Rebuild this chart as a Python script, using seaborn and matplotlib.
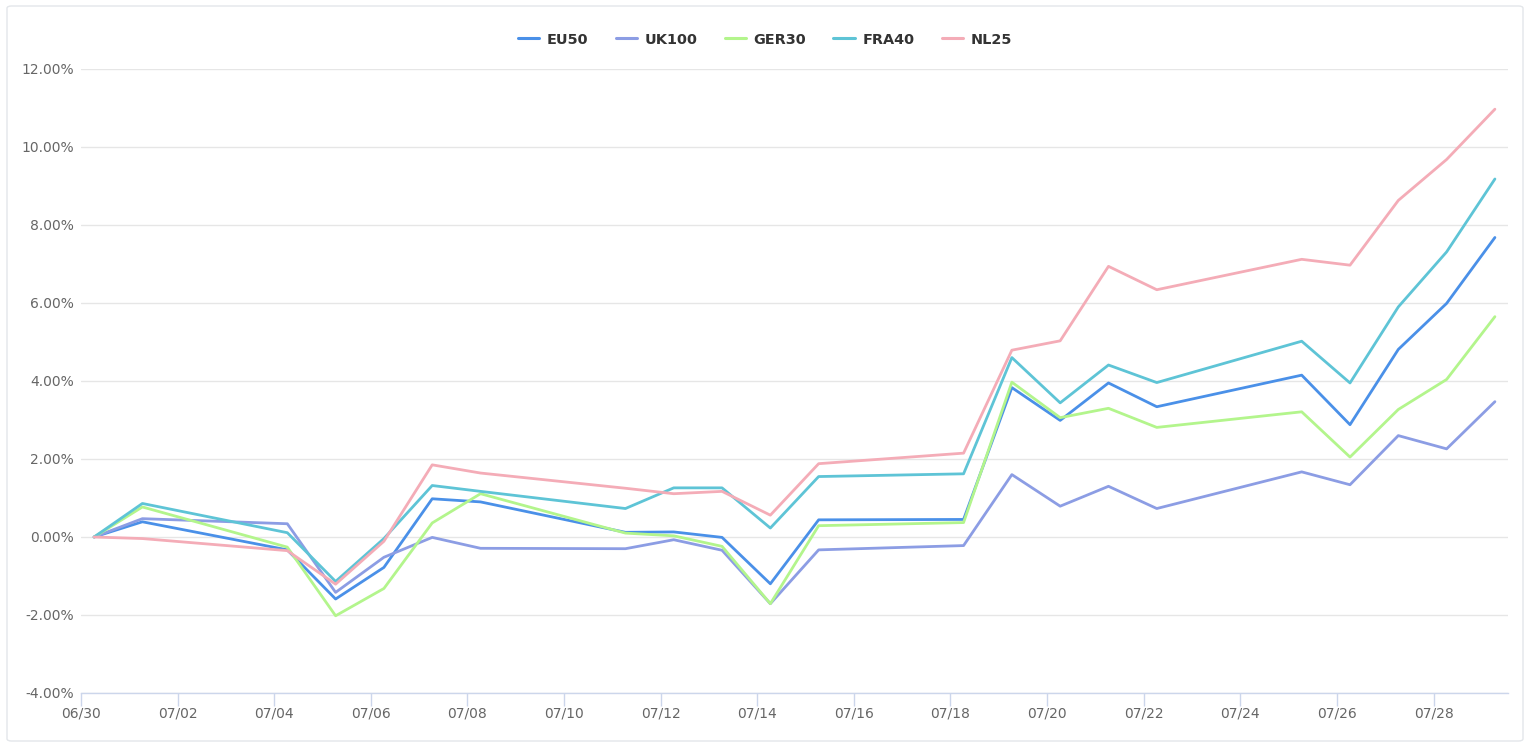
import matplotlib
matplotlib.use("Agg")
import matplotlib.pyplot as plt
import matplotlib.dates as mdates
from matplotlib.ticker import FuncFormatter, MultipleLocator
from matplotlib.patches import FancyBboxPatch
from matplotlib.lines import Line2D
import seaborn as sns
import pandas as pd

dates = ["2022-06-30", "2022-07-01", "2022-07-04", "2022-07-05", "2022-07-06",
         "2022-07-07", "2022-07-08", "2022-07-11", "2022-07-12", "2022-07-13",
         "2022-07-14", "2022-07-15", "2022-07-18", "2022-07-19", "2022-07-20",
         "2022-07-21", "2022-07-22", "2022-07-25", "2022-07-26", "2022-07-27",
         "2022-07-28", "2022-07-29"]
time_of_day = "06:30"

eu50 = [0.00, 0.39, -0.33, -1.59, -0.78, 0.98, 0.90, 0.12, 0.13, -0.01, -1.20,
        0.44, 0.45, 3.83, 2.99, 3.95, 3.34, 4.15, 2.88, 4.81, 5.99, 7.68]
uk100 = [0.00, 0.47, 0.34, -1.42, -0.52, -0.01, -0.29, -0.30, -0.07, -0.34, -1.71,
         -0.33, -0.22, 1.60, 0.79, 1.30, 0.73, 1.67, 1.34, 2.60, 2.26, 3.47]
ger30 = [0.00, 0.77, -0.26, -2.02, -1.32, 0.36, 1.11, 0.10, 0.03, -0.24, -1.71,
         0.29, 0.37, 3.97, 3.06, 3.30, 2.81, 3.21, 2.05, 3.27, 4.04, 5.65]
fra40 = [0.00, 0.86, 0.11, -1.14, -0.04, 1.32, 1.17, 0.73, 1.26, 1.26, 0.23,
         1.55, 1.62, 4.60, 3.44, 4.41, 3.96, 5.02, 3.95, 5.90, 7.31, 9.18]
nl25 = [0.00, -0.04, -0.35, -1.21, -0.11, 1.85, 1.64, 1.25, 1.11, 1.17, 0.56,
        1.88, 2.15, 4.79, 5.03, 6.94, 6.34, 7.12, 6.97, 8.63, 9.68, 10.97]

series_names = ["EU50", "UK100", "GER30", "FRA40", "NL25"]
series_values = [eu50, uk100, ger30, fra40, nl25]
colors = ["#4a90e8", "#8c9de4", "#b3f58c", "#5ec4d6", "#f4acb7"]

ts = pd.to_datetime([d + " " + time_of_day for d in dates])
frames = []
for name, vals in zip(series_names, series_values):
    frames.append(pd.DataFrame({"date": ts, "value": vals, "series": name}))
df = pd.concat(frames, ignore_index=True)

sns.set_style("white")
plt.rcParams["font.family"] = ["DejaVu Sans"]

fig = plt.figure(figsize=(15.32, 7.54), dpi=100)
ax = fig.add_axes([81 / 1532, 1 - 693 / 754, (1508 - 81) / 1532, (693 - 69) / 754])

sns.lineplot(data=df, x="date", y="value", hue="series", hue_order=series_names,
             palette=colors, linewidth=2, ax=ax, legend=False)

ax.set_ylim(-4, 12)
ax.yaxis.set_major_locator(MultipleLocator(2))
ax.yaxis.set_major_formatter(FuncFormatter(lambda v, p: f"{v:.2f}%"))
ax.set_xlim(pd.Timestamp("2022-06-30 00:00"), pd.Timestamp("2022-07-29 13:00"))
ax.xaxis.set_major_locator(mdates.DayLocator(bymonthday=[30, 2, 4, 6, 8, 10, 12, 14, 16, 18, 20, 22, 24, 26, 28]))
ax.xaxis.set_major_formatter(mdates.DateFormatter("%m/%d"))
ax.set_xlabel("")
ax.set_ylabel("")

ax.grid(axis="y", color="#e6e6e6", linewidth=1)
ax.grid(axis="x", visible=False)
for s in ["top", "right", "left"]:
    ax.spines[s].set_visible(False)
ax.spines["bottom"].set_color("#ccd6eb")
ax.spines["bottom"].set_linewidth(1)
ax.tick_params(axis="x", which="major", direction="out", length=9.5, width=1,
               color="#ccd6eb", labelcolor="#666666", labelsize=10, pad=0.5, bottom=True)
ax.tick_params(axis="y", length=0, labelcolor="#666666", labelsize=10, pad=5)

# legend
handles = [Line2D([0], [0], color=c, linewidth=2.2) for c in colors]
leg = fig.legend(handles, series_names, loc="center", bbox_to_anchor=(765 / 1532, 1 - 39.5 / 754),
                 ncol=5, frameon=False, handlelength=1.46, handletextpad=0.55, columnspacing=1.87,
                 borderpad=0, prop={"family": "DejaVu Sans", "weight": "bold", "size": 10.4})
for t in leg.get_texts():
    t.set_color("#333333")

# outer border
border = FancyBboxPatch((7 / 1532, 13 / 754), (1523 - 7) / 1532, (748 - 13) / 754,
                        boxstyle="round,pad=0,rounding_size=0.003", transform=fig.transFigure,
                        facecolor="none", edgecolor="#e3e6ea", linewidth=1)
fig.patches.append(border)

fig.savefig("out.png", dpi=100)
